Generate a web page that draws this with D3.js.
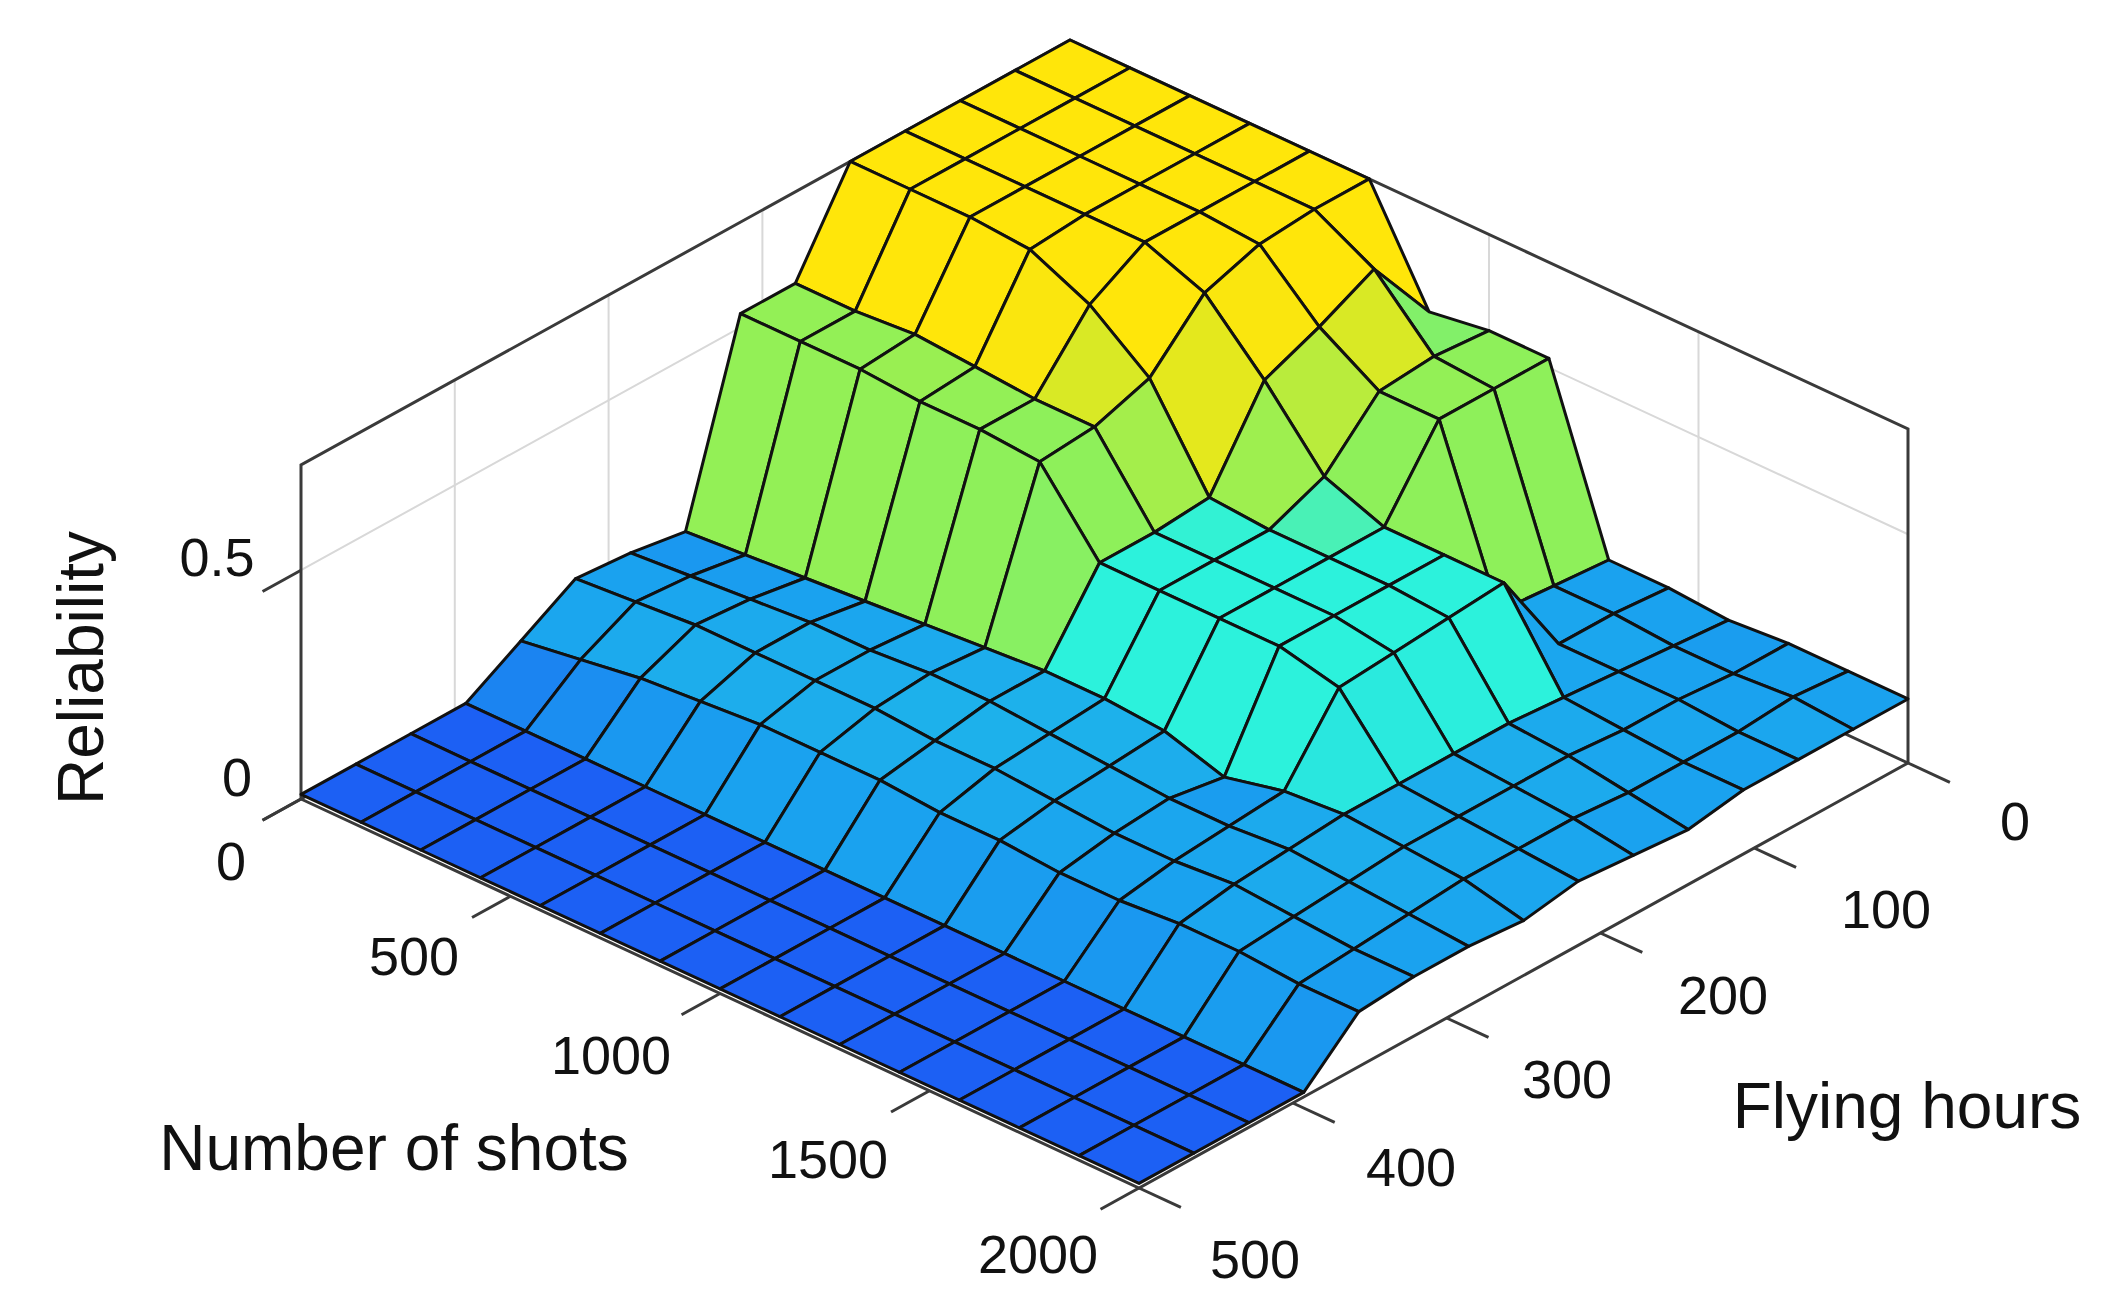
<!DOCTYPE html>
<html><head><meta charset="utf-8">
<script src="https://cdn.jsdelivr.net/npm/d3@7"></script>
<style>body{margin:0;background:#fff}svg{display:block}text{font-family:"Liberation Sans",Arial,sans-serif;fill:#111}</style>
</head><body>
<svg id="c" width="2117" height="1303"></svg>
<script>
// grid coordinates
const shotsGrid = [0,142.9,285.7,428.6,571.4,714.3,857.1,1000,1142.9,1285.7,1428.6,1571.4,1714.3,1857.1,2000];
const hoursGrid = [0,35.7,71.4,107.1,142.9,178.6,214.3,250,285.7,321.4,357.1,392.9,428.6,464.3,500];
// reliability rows: one per flying-hours grid value, columns = shots grid
const rel00 = [.73,.73,.73,.73,.73,.73,.50,.52,.52,.14,.14,.13,.14,.14,.14];
const rel01 = [.73,.73,.73,.73,.73,.73,.66,.53,.52,.15,.15,.14,.14,.15,.14];
const rel02 = [.73,.73,.73,.73,.73,.72,.60,.52,.52,.16,.15,.15,.15,.14,.14];
const rel03 = [.73,.73,.73,.73,.73,.68,.55,.40,.35,.35,.35,.16,.15,.14,.14];
const rel04 = [.73,.73,.73,.72,.66,.56,.36,.35,.35,.35,.34,.17,.16,.14,.12];
const rel05 = [.53,.53,.54,.53,.52,.52,.35,.35,.35,.35,.33,.17,.16,.15,.13];
const rel06 = [.53,.53,.53,.52,.52,.51,.35,.35,.35,.35,.32,.17,.16,.15,.14];
const rel07 = [.12,.13,.14,.15,.16,.17,.18,.18,.17,.13,.16,.17,.16,.15,.12];
const rel08 = [.14,.15,.16,.17,.17,.18,.18,.17,.16,.15,.15,.16,.15,.14,.13];
const rel09 = [.15,.16,.17,.17,.17,.17,.16,.16,.15,.14,.14,.15,.14,.13,.13];
const rel10 = [.08,.10,.12,.13,.14,.14,.14,.13,.13,.12,.12,.13,.13,.12,.12];
const rel11 = [.01,.01,.01,.01,.01,.01,.01,.01,.01,.01,.01,.01,.01,.01,.01];
const rel12 = [.01,.01,.01,.01,.01,.01,.01,.01,.01,.01,.01,.01,.01,.01,.01];
const rel13 = [.01,.01,.01,.01,.01,.01,.01,.01,.01,.01,.01,.01,.01,.01,.01];
const rel14 = [.01,.01,.01,.01,.01,.01,.01,.01,.01,.01,.01,.01,.01,.01,.01];
const reliability = [rel00,rel01,rel02,rel03,rel04,rel05,rel06,rel07,rel08,rel09,rel10,rel11,rel12,rel13,rel14];
const shotTicks = [0,500,1000,1500,2000];
const hourTicks = [0,100,200,300,400,500];
const relTicks = [0,0.5];

const svg = d3.select("#c");
const uS = d3.scaleLinear().domain([0,2000]).range([0,1]);
const vS = d3.scaleLinear().domain([0,500]).range([1,0]);
const zS = d3.scaleLinear().domain([0,0.73]).range([0,334]);
const O=[301,799], U=[838,389], V=[769,-425];
function P(s,h,z){const u=uS(s),v=vS(h);return [O[0]+U[0]*u+V[0]*v, O[1]+U[1]*u+V[1]*v-zS(z)];}
const color = d3.scaleLinear().domain([0.01,0.14,0.35,0.52,0.73])
  .range(["#1c60f4","#1aa2ef","#2cf2dc","#8ef05a","#ffe60a"]);
const line = d3.line();

// back walls grid
const g0 = svg.append("g").attr("stroke","#d8d8d8").attr("stroke-width",2).attr("fill","none");
hourTicks.filter(h=>h>0&&h<500).forEach(h=>g0.append("path").attr("d",line([P(0,h,0),P(0,h,0.73)])));
shotTicks.filter(s=>s>0&&s<2000).forEach(s=>g0.append("path").attr("d",line([P(s,0,0),P(s,0,0.73)])));
relTicks.filter(z=>z>0).forEach(z=>g0.append("path").attr("d",line([P(0,500,z),P(0,0,z),P(2000,0,z)])));
// box back lines
const gb = svg.append("g").attr("stroke","#3a3a3a").attr("stroke-width",3).attr("fill","none");
gb.append("path").attr("d",line([P(0,500,0),P(0,500,0.73),P(0,0,0.73),P(2000,0,0.73),P(2000,0,0)]));
gb.append("path").attr("d",line([P(0,0,0),P(0,0,0.73)]));
gb.append("path").attr("d",line([P(0,500,0),P(0,0,0),P(2000,0,0)]));

// surface
const cells=[];
for(let j=0;j<14;j++)for(let i=0;i<14;i++){
  cells.push({i,j,pts:[P(shotsGrid[i],hoursGrid[j],reliability[j][i]),P(shotsGrid[i+1],hoursGrid[j],reliability[j][i+1]),
    P(shotsGrid[i+1],hoursGrid[j+1],reliability[j+1][i+1]),P(shotsGrid[i],hoursGrid[j+1],reliability[j+1][i])],c:reliability[j][i]});
}
cells.sort((a,b)=>(a.i+a.j)-(b.i+b.j)||a.i-b.i);
svg.append("g").selectAll("path").data(cells).join("path")
  .attr("d",d=>line(d.pts)+"Z").attr("fill",d=>color(d.c))
  .attr("stroke","#111").attr("stroke-width",3).attr("stroke-linejoin","round");

// front axes
const ga = svg.append("g").attr("stroke","#3a3a3a").attr("stroke-width",3).attr("fill","none");
ga.append("path").attr("d",line([P(0,500,0),P(2000,500,0),P(2000,0,0)]));
shotTicks.forEach(s=>ga.append("path").attr("d",line([P(s,500,0),P(s,525,0)])));
hourTicks.forEach(h=>ga.append("path").attr("d",line([P(2000,h,0),P(2100,h,0)])));
relTicks.forEach(z=>ga.append("path").attr("d",line([P(0,500,z),P(0,525,z)])));

const gt = svg.append("g").attr("font-size",54).attr("text-anchor","middle");
const shotLab=[[231,880],[414,975],[611,1074],[828,1178],[1038,1273]];
shotTicks.forEach((s,k)=>gt.append("text").attr("x",shotLab[k][0]).attr("y",shotLab[k][1]).text(s));
const hourLab=[[2015,840],[1886,928],[1723,1014],[1567,1098],[1411,1186],[1255,1278]];
hourTicks.forEach((h,k)=>gt.append("text").attr("x",hourLab[k][0]).attr("y",hourLab[k][1]).text(h));
const relLab=[[237,796],[217,576]];
relTicks.forEach((z,k)=>gt.append("text").attr("x",relLab[k][0]).attr("y",relLab[k][1]).text(z));
svg.append("text").attr("font-size",64).attr("text-anchor","middle").attr("transform","translate(103,668) rotate(-90)").text("Reliability");
svg.append("text").attr("font-size",64).attr("text-anchor","middle").attr("x",394).attr("y",1170).text("Number of shots");
svg.append("text").attr("font-size",64).attr("text-anchor","middle").attr("x",1907).attr("y",1128).text("Flying hours");
</script></body></html>
